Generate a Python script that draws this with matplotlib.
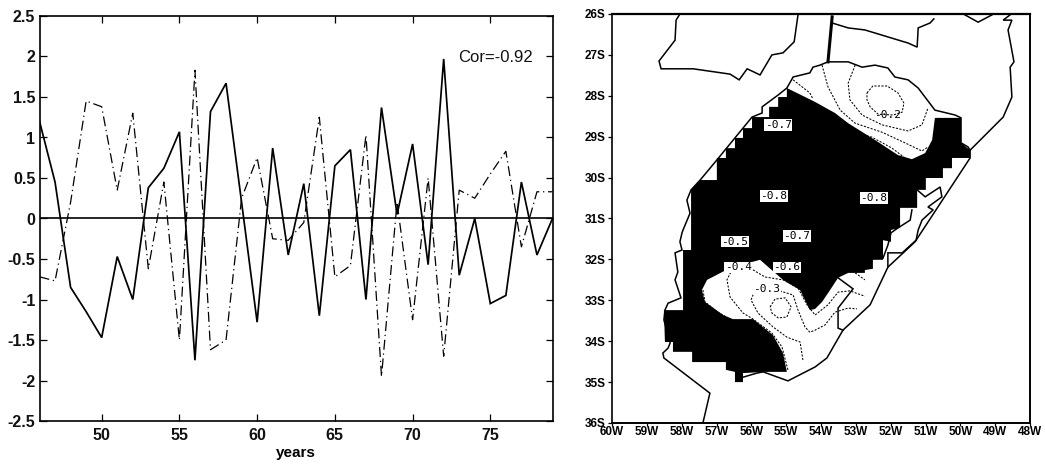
import matplotlib
matplotlib.use("Agg")
import matplotlib.pyplot as plt

years = list(range(46, 80))
solid_series = [1.2, 0.45, -0.85, -1.15, -1.47, -0.47, -1.0, 0.38, 0.62, 1.07, -1.75, 1.32, 1.67, 0.2, -1.28, 0.87, -0.45,
                0.43, -1.2, 0.65, 0.85, -1.0, 1.37, 0.05, 0.92, -0.57, 1.97, -0.7, 0.0, -1.05, -0.95, 0.45, -0.45, 0.0]
dashdot_series = [-0.72, -0.77, 0.2, 1.45, 1.38, 0.35, 1.3, -0.62, 0.45, -1.5, 1.83, -1.62, -1.5, 0.25, 0.75, -0.25, -0.27,
                  -0.05, 1.25, -0.72, -0.58, 1.03, -1.95, 0.2, -1.25, 0.5, -1.7, 0.35, 0.25, 0.55, 0.83, -0.35, 0.33, 0.33]
year_ticks = [50, 55, 60, 65, 70, 75]
value_ticks = [-2.5, -2, -1.5, -1, -0.5, 0, 0.5, 1, 1.5, 2, 2.5]
value_labels = ['-2.5', '-2', '-1.5', '-1', '-0.5', '0', '0.5', '1', '1.5', '2', '2.5']

# Map data: degrees West, degrees South
black_w = [54.98, 54.17, 53.60, 53.22, 52.45, 51.79, 51.39, 51.01, 50.81, 50.73, 49.98, 49.98, 49.72, 49.72, 50.24, 50.24,
           50.50, 50.50, 50.99, 50.99, 51.24, 51.24, 51.73, 51.73, 51.99, 51.99, 52.22, 52.22, 52.51, 52.51, 52.74, 52.74,
           53.22, 53.51, 53.74, 53.97, 54.17, 54.32, 54.60, 55.09, 55.75, 56.61, 57.27, 57.42, 57.33, 56.81, 56.53, 55.95,
           55.38, 55.09, 54.98, 55.61, 56.24, 56.24, 56.47, 56.47, 56.73, 56.73, 57.70, 57.70, 58.25, 58.25, 58.48, 58.51,
           57.96, 57.96, 57.73, 57.73, 57.47, 56.99, 56.99, 56.73, 56.73, 56.47, 56.47, 56.24, 56.24, 55.98, 55.98, 55.49,
           55.49, 55.23, 55.23, 54.98]
black_s = [27.81, 28.15, 28.42, 28.67, 29.08, 29.45, 29.55, 29.40, 29.08, 28.54, 28.54, 29.15, 29.33, 29.52, 29.52, 29.77,
           29.77, 30.01, 30.01, 30.30, 30.30, 30.74, 30.74, 31.23, 31.28, 31.57, 31.53, 32.01, 32.01, 32.23, 32.26, 32.33,
           32.33, 32.45, 32.75, 33.04, 33.21, 33.24, 32.75, 32.50, 32.01, 32.21, 32.50, 32.75, 33.04, 33.36, 33.46, 33.46,
           33.85, 34.29, 34.75, 34.75, 34.78, 35.00, 35.00, 34.75, 34.70, 34.51, 34.51, 34.26, 34.26, 34.02, 34.02, 33.24,
           33.24, 31.77, 31.77, 30.30, 30.06, 30.06, 29.52, 29.52, 29.28, 29.28, 29.03, 29.03, 28.79, 28.79, 28.52, 28.52,
           28.27, 28.27, 28.03, 28.03]

coast_lines = [
    ([58.05, 58.16, 58.19, 58.65, 58.59, 57.67, 56.61, 56.35, 56.12, 55.75, 55.41, 55.09, 54.77, 54.66],
     [26.00, 26.15, 26.64, 27.15, 27.34, 27.34, 27.47, 27.61, 27.34, 27.49, 27.00, 26.95, 26.68, 26.02]),
    ([57.39, 57.19, 58.51, 58.54, 58.39, 58.33, 58.51, 58.48, 58.39, 58.02, 58.19, 58.11, 58.19, 57.99, 58.05, 57.99, 57.96,
      57.76, 57.85, 57.73, 57.47, 56.99, 56.24, 55.98, 55.69, 55.69, 55.23, 54.98, 54.80, 54.32, 54.23, 54.03, 53.80, 53.22,
      52.82, 52.45, 52.08, 51.88, 51.50, 51.21, 50.73, 50.15, 49.98, 49.98, 49.78, 49.72],
     [36.00, 35.27, 34.41, 34.29, 34.17, 34.04, 33.48, 33.24, 33.07, 32.94, 32.50, 32.31, 31.84, 31.77, 31.57, 31.35, 31.28,
      30.87, 30.55, 30.30, 30.06, 29.57, 28.79, 28.52, 28.42, 28.27, 27.98, 27.81, 27.54, 27.44, 27.30, 27.25, 27.17, 27.17,
      27.30, 27.25, 27.32, 27.54, 27.61, 27.81, 28.35, 28.47, 28.54, 29.15, 29.25, 29.33]),
    ([56.24, 55.84, 55.66, 54.95, 54.17, 53.83, 53.37, 52.59, 52.08, 51.30, 49.72, 49.72, 48.77, 48.52, 48.57, 48.46, 48.63,
      48.52, 48.77, 48.57],
     [34.88, 34.78, 34.75, 34.97, 34.63, 34.41, 33.73, 33.11, 32.19, 31.57, 29.52, 29.33, 28.52, 28.03, 27.30, 27.17, 26.39,
      26.15, 26.15, 26.02]),
    ([53.68, 53.22, 52.74, 51.50, 51.24, 51.21, 50.87, 50.76],
     [26.22, 26.34, 26.39, 26.71, 26.81, 26.34, 26.22, 26.12]),
    ([49.87, 49.49, 49.09], [26.02, 26.20, 26.02]),
    ([53.51, 53.08, 53.51, 53.51, 53.37], [32.45, 32.72, 33.19, 33.68, 33.73]),
    ([51.24, 51.01, 50.58, 50.53, 50.93, 50.78, 51.10, 51.21, 51.27, 51.67, 52.08, 52.08],
     [30.30, 30.47, 30.23, 30.47, 30.72, 30.79, 31.04, 31.28, 31.53, 31.84, 31.84, 32.19]),
    ([51.39, 51.44, 51.79, 51.99, 52.08, 52.22], [30.79, 31.04, 31.23, 31.35, 31.65, 31.97]),
]
border_w = [53.68, 53.80]
border_s = [26.07, 27.17]

contour_lines = [
    ([52.68, 52.51, 52.10, 51.79, 51.62, 51.67, 51.93, 52.36, 52.59, 52.68, 52.68],
     [27.93, 27.76, 27.76, 27.93, 28.18, 28.40, 28.47, 28.45, 28.27, 28.10, 27.93]),
    ([53.02, 53.22, 53.17, 52.82, 52.25, 51.50, 51.10, 50.93], [27.25, 27.69, 28.10, 28.47, 28.71, 28.86, 28.71, 28.30]),
    ([53.97, 53.80, 53.45, 53.02, 52.25, 51.59, 51.10, 50.93], [27.25, 27.78, 28.35, 28.67, 28.89, 29.15, 29.35, 29.25]),
    ([53.08, 52.54, 51.96, 51.59], [28.89, 29.01, 29.28, 29.52]),
    ([54.80, 54.32, 54.23], [27.61, 27.93, 28.08]),
    ([55.46, 55.32, 55.03, 54.86, 54.98, 55.23, 55.41, 55.46], [33.16, 32.97, 32.94, 33.16, 33.41, 33.43, 33.31, 33.16]),
    ([54.52, 54.60, 54.98, 55.38, 55.81, 56.01, 55.89, 55.26, 54.80, 54.66, 54.46, 54.32, 54.17, 53.88, 53.60, 53.22, 52.97],
     [34.46, 34.02, 33.90, 33.65, 33.31, 32.99, 32.75, 32.75, 32.87, 33.24, 33.65, 33.78, 33.73, 33.60, 33.29, 33.19, 33.21]),
    ([54.95, 55.12, 55.41, 55.95, 56.24, 56.61, 56.70, 56.53], [34.70, 34.14, 33.80, 33.46, 33.31, 32.92, 32.50, 32.21]),
    ([56.04, 55.61, 55.09, 54.66, 54.40, 54.17, 53.80, 53.51, 53.17, 52.74],
     [32.21, 32.43, 32.50, 32.70, 33.11, 33.36, 33.11, 32.80, 32.77, 32.90]),
    ([53.02, 52.74], [32.33, 32.50]),
    ([57.39, 57.33, 56.96, 56.67], [32.75, 33.04, 33.29, 33.43]),
]
label_text = ['-0.7', '-0.8', '-0.8', '-0.5', '-0.7', '-0.4', '-0.6', '-0.3', '-0.2']
label_w = [55.23, 55.35, 52.48, 56.47, 54.69, 56.38, 54.98, 55.55, 52.08]
label_s = [28.71, 30.45, 30.50, 31.57, 31.43, 32.19, 32.19, 32.72, 28.47]
lon_ticks = list(range(60, 47, -1))
lat_ticks = list(range(26, 37))

W, H = 1045, 465
plt.rcParams['font.family'] = ['Liberation Sans', 'DejaVu Sans']
fig = plt.figure(figsize=(W / 100, H / 100), dpi=100)


def box(x0, y0, x1, y1):
    return [x0 / W, 1 - y1 / H, (x1 - x0) / W, (y1 - y0) / H]


# Left panel
ax = fig.add_axes(box(39.5, 16, 552.5, 421))
ax.plot(years, solid_series, color='black', lw=1.25, solid_joinstyle='miter')
ax.plot(years, dashdot_series, color='black', lw=0.9, dashes=(8, 3, 1, 3))
ax.axhline(0, color='black', lw=1.2)
ax.set_xlim(46, 79)
ax.set_ylim(-2.5, 2.5)
ax.set_xticks(year_ticks)
ax.set_yticks(value_ticks)
ax.set_yticklabels(value_labels)
ax.tick_params(direction='in', top=True, right=True, length=5, width=0.9, labelsize=11.5, pad=3)
ax.tick_params(axis='x', pad=5)
for lab in ax.get_xticklabels() + ax.get_yticklabels():
    lab.set_fontweight('bold')
    lab.set_color('#111111')
for s in ax.spines.values():
    s.set_linewidth(1.2)
ax.set_xlabel('years', fontsize=11, fontweight='bold', labelpad=2)
ax.text(75.35, 1.99, 'Cor=-0.92', fontsize=12, ha='center', va='center', color='#111111')

# Right panel
mp = fig.add_axes(box(612, 14, 1030, 423))
mp.set_xlim(60, 48)
mp.set_ylim(36, 26)
for cw, cs in contour_lines:
    mp.plot(cw, cs, color='black', lw=0.75, dashes=(2, 1.4), zorder=2)
mp.fill(black_w, black_s, color='black', lw=0, zorder=3)
for cw, cs in coast_lines:
    mp.plot(cw, cs, color='black', lw=1.1, zorder=4, solid_joinstyle='miter')
mp.plot(border_w, border_s, color='black', lw=2.2, zorder=4)
for t, lw_, ls_ in zip(label_text, label_w, label_s):
    plain = t == '-0.2'
    mp.text(lw_, ls_, t, family='DejaVu Sans Mono', fontsize=8, ha='center', va='center', color='black', zorder=6,
            bbox=None if plain else dict(facecolor='white', edgecolor='none', pad=0.5))
mp.set_xticks(lon_ticks)
mp.set_xticklabels([f'{v}W' for v in lon_ticks])
mp.set_yticks(lat_ticks)
mp.set_yticklabels([f'{v}S' for v in lat_ticks])
mp.tick_params(direction='out', length=3, width=0.9, labelsize=8.5, pad=1.5)
mp.tick_params(axis='x', pad=0.5, length=2)
for lab in mp.get_xticklabels() + mp.get_yticklabels():
    lab.set_fontweight('bold')
mp.spines['top'].set_linewidth(1.6)
mp.spines['bottom'].set_linewidth(1.4)
mp.spines['left'].set_linewidth(1.2)
mp.spines['right'].set_linewidth(1.4)

fig.savefig('out.png', dpi=100)
